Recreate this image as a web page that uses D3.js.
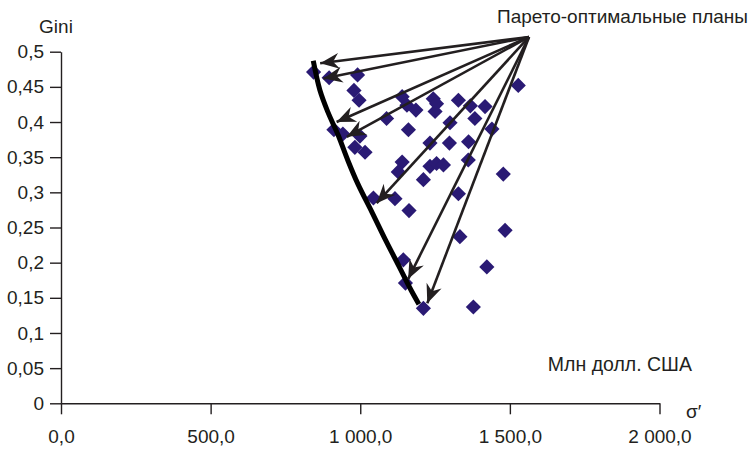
<!DOCTYPE html>
<html>
<head>
<meta charset="utf-8">
<script src="https://cdn.jsdelivr.net/npm/d3@7"></script>
<style>
  body { margin: 0; background: #fff; }
  svg text { font-family: "Liberation Sans", Arial, sans-serif; fill: #231f20; }
</style>
</head>
<body>
<div id="chart"></div>
<script>
// scatter of plans: sigma' (mln USD) vs Gini
const planSigma = [844, 896, 991, 979, 996, 912, 942, 999, 982, 1016, 1088, 1140, 1156, 1186, 1161,
  1244, 1255, 1250, 1328, 1368, 1417, 1383, 1300, 1528, 1440, 1233, 1298, 1362, 1140, 1127,
  1233, 1255, 1278, 1211, 1361, 1478, 1328, 1044, 1116, 1163, 1333, 1484, 1144, 1151, 1423, 1211, 1378];
const planGini = [0.471, 0.463, 0.467, 0.445, 0.431, 0.389, 0.383, 0.380, 0.364, 0.357, 0.405, 0.436, 0.424, 0.417, 0.389,
  0.433, 0.426, 0.415, 0.431, 0.423, 0.422, 0.405, 0.399, 0.452, 0.390, 0.370, 0.370, 0.372, 0.343, 0.329,
  0.337, 0.341, 0.339, 0.318, 0.346, 0.326, 0.298, 0.292, 0.291, 0.274, 0.237, 0.246, 0.204, 0.171, 0.194, 0.135, 0.137];

// Pareto frontier curve
const frontSigma = [843, 865, 892, 926, 959, 992, 1039, 1086, 1133, 1166, 1196];
const frontGini = [0.487, 0.4455, 0.414, 0.3815, 0.345, 0.312, 0.272, 0.231, 0.192, 0.164, 0.141];

// arrows from the label point to the Pareto-optimal plans
const arrowFrom = [1564, 0.521];
const arrowSigma = [866, 877, 921, 955, 1055, 1160, 1224];
const arrowGini = [0.4835, 0.462, 0.400, 0.379, 0.2845, 0.1767, 0.1422];

const yTicks = [0, 0.05, 0.1, 0.15, 0.2, 0.25, 0.3, 0.35, 0.4, 0.45, 0.5];
const xTicks = [0, 500, 1000, 1500, 2000];
const xTickLabels = ["0,0", "500,0", "1 000,0", "1 500,0", "2 000,0"];

const width = 756, height = 451;
const ink = "#231f20";

const svg = d3.select("#chart").append("svg")
  .attr("width", width)
  .attr("height", height);

const x = d3.scaleLinear().domain([0, 2000]).range([61, 659.5]);
const y = d3.scaleLinear().domain([0, 0.5]).range([403.3, 51.7]);

// axes
const yAxis = svg.append("g")
  .attr("transform", `translate(${x(0)},0)`)
  .call(d3.axisLeft(y).tickValues(yTicks).tickSize(11).tickSizeOuter(0).tickPadding(6)
    .tickFormat(d => d === 0 ? "0" : String(+d.toFixed(2)).replace(".", ",")));

const xAxis = svg.append("g")
  .attr("transform", `translate(0,${y(0)})`)
  .call(d3.axisBottom(x).tickValues(xTicks).tickSize(11).tickSizeOuter(0).tickPadding(15)
    .tickFormat((d, i) => xTickLabels[i]));

[xAxis, yAxis].forEach(g => {
  g.select(".domain").attr("stroke", ink).attr("stroke-width", 1.4);
  g.selectAll(".tick line").attr("stroke", ink).attr("stroke-width", 1.4);
  g.selectAll(".tick text")
    .attr("fill", ink)
    .style("font-size", "19px")
    .style("font-family", "'Liberation Sans', Arial, sans-serif");
});

// points
svg.append("g")
  .selectAll("path")
  .data(planSigma)
  .join("path")
  .attr("transform", (d, i) => `translate(${x(d)},${y(planGini[i])}) rotate(45)`)
  .attr("d", d3.symbol().type(d3.symbolSquare).size(115))
  .attr("fill", "#2a1a74");

// frontier
const frontier = frontSigma.map((d, i) => [d, frontGini[i]]);
svg.append("path")
  .datum(frontier)
  .attr("d", d3.line().x(d => x(d[0])).y(d => y(d[1])).curve(d3.curveCatmullRom))
  .attr("fill", "none")
  .attr("stroke", "#000")
  .attr("stroke-width", 5);

// arrows
svg.append("defs").append("marker")
  .attr("id", "head")
  .attr("viewBox", "-20 -9 22 18")
  .attr("refX", 0)
  .attr("refY", 0)
  .attr("markerWidth", 22)
  .attr("markerHeight", 18)
  .attr("markerUnits", "userSpaceOnUse")
  .attr("orient", "auto")
  .append("path")
  .attr("d", "M0,0 L-19,-8 L-13,0 L-19,8 Z")
  .attr("fill", ink);

svg.append("g")
  .selectAll("line")
  .data(arrowSigma)
  .join("line")
  .attr("x1", x(arrowFrom[0]))
  .attr("y1", y(arrowFrom[1]))
  .attr("x2", d => x(d))
  .attr("y2", (d, i) => y(arrowGini[i]))
  .attr("stroke", ink)
  .attr("stroke-width", 2.6)
  .attr("marker-end", "url(#head)");

// labels
svg.append("text")
  .attr("x", 56).attr("y", 33)
  .attr("text-anchor", "middle")
  .style("font-size", "19px")
  .text("Gini");

svg.append("text")
  .attr("x", 748).attr("y", 23)
  .attr("text-anchor", "end")
  .style("font-size", "19px")
  .text("Парето-оптимальные планы");

svg.append("text")
  .attr("x", 692).attr("y", 371)
  .attr("text-anchor", "end")
  .style("font-size", "19.5px")
  .text("Млн долл. США");

svg.append("text")
  .attr("x", 686).attr("y", 418)
  .style("font-size", "19px")
  .text("σ′");
</script>
</body>
</html>
